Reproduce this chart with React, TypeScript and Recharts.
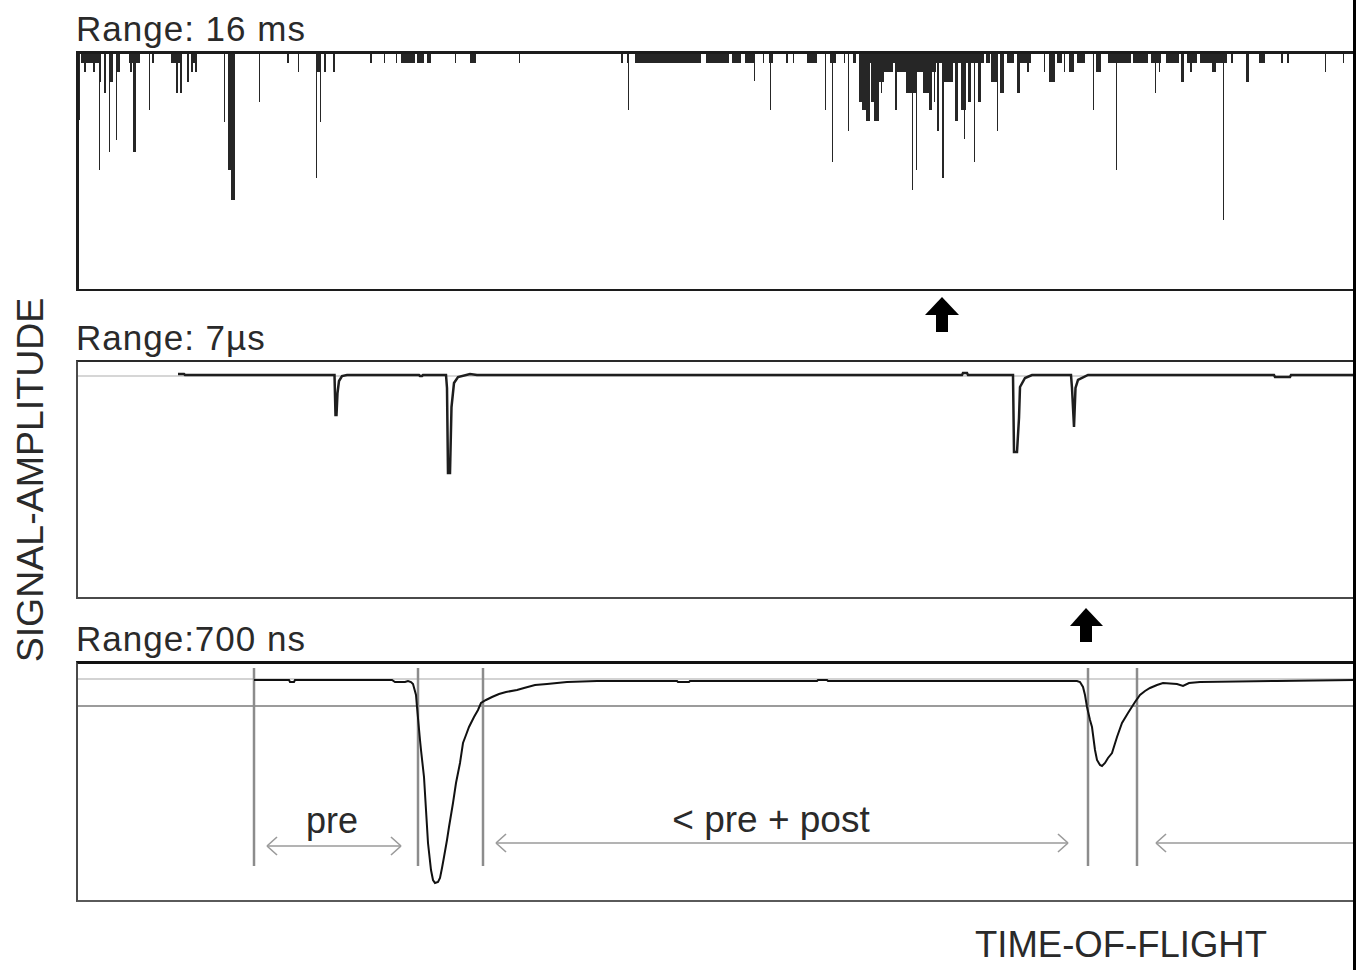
import React from 'react';
import { ComposedChart, Area, Line, XAxis, YAxis, ReferenceLine } from 'recharts';

// ---------- DATA ----------
// Channels along time-of-flight (0..1277 channels across each panel)
const CH_MAX = 1277;

// Panel 1 (Range 16 ms): detected events as [startChannel, endChannel, amplitude]
const panel1Events: [number, number, number][] = [
  [0, 3, 67],
  [4, 24, 10], [7, 9, 19], [16, 18, 19], [22, 24, 29], [22, 23, 117],
  [27, 29, 40], [32, 33, 99], [33, 36, 29], [39, 40, 87], [40, 43, 19],
  [52, 63, 10], [53, 55, 19], [56, 59, 99],
  [72, 73, 57], [75, 77, 10],
  [94, 105, 10], [99, 101, 40], [103, 105, 40], [110, 112, 29], [114, 120, 10], [114, 116, 19], [118, 120, 19],
  [147, 148, 69], [151, 154, 117], [154, 158, 147],
  [182, 183, 49], [210, 212, 10], [221, 222, 19],
  [239, 243, 19], [239, 240, 125], [243, 244, 69], [247, 249, 19], [256, 258, 19],
  [293, 295, 10], [307, 308, 10], [319, 320, 10], [324, 338, 10], [340, 347, 10], [350, 354, 10],
  [378, 379, 10], [393, 399, 10], [442, 443, 10],
  [544, 546, 10], [550, 552, 10], [551, 552, 57],
  [558, 624, 10], [629, 652, 10], [655, 664, 10], [668, 677, 10], [677, 678, 28],
  [686, 687, 10], [692, 696, 10], [693, 694, 57], [709, 711, 10], [716, 717, 10], [730, 740, 10],
  [748, 749, 57], [753, 759, 10], [755, 756, 109], [767, 768, 10], [771, 772, 78], [776, 779, 10],
  [782, 907, 10],
  [782, 785, 49], [785, 789, 57], [789, 793, 68], [794, 797, 49], [797, 802, 68], [802, 807, 29],
  [804, 805, 40], [807, 816, 19], [818, 820, 57], [820, 829, 19], [829, 839, 40], [835, 836, 137],
  [839, 840, 117], [839, 846, 19], [846, 852, 40], [852, 855, 57], [855, 859, 19], [857, 858, 49],
  [860, 862, 78], [865, 867, 125], [867, 876, 29], [878, 881, 68], [884, 889, 57], [887, 888, 86],
  [891, 894, 49], [897, 898, 109], [901, 904, 49],
  [909, 913, 10], [914, 920, 29], [920, 921, 78], [923, 927, 40], [930, 937, 10], [940, 943, 40],
  [943, 954, 10], [950, 952, 19], [967, 968, 19], [972, 978, 29], [980, 985, 10], [987, 988, 19],
  [992, 997, 19], [1000, 1008, 10],
  [1016, 1017, 57], [1019, 1024, 19], [1031, 1054, 10], [1039, 1040, 117], [1056, 1071, 10],
  [1074, 1084, 10], [1078, 1079, 40], [1082, 1083, 19], [1089, 1102, 10], [1104, 1107, 29],
  [1110, 1120, 10], [1113, 1115, 19], [1123, 1141, 10], [1135, 1139, 19], [1141, 1150, 10],
  [1146, 1147, 167], [1154, 1156, 10], [1169, 1172, 29], [1182, 1188, 10], [1204, 1206, 10],
  [1210, 1212, 10], [1248, 1249, 19], [1266, 1267, 10],
];

// Panel 2 (Range 7 µs): signal trace [channel, amplitude]
const panel2Trace: [number, number][] = [
  [101, 2], [107, 2], [108, 1], [257.5, 1], [258.5, -39], [259.5, -39], [260.5, -17], [262, -5], [265, 0], [270, 1],
  [342, 1], [343, 0], [345, 0], [346, 1],
  [369, 1], [370, -12], [371, -97], [373, -97], [374.5, -31], [377, -7], [381, -1], [393, 2], [400, 1],
  [885, 1], [886, 3], [890, 3], [891, 1],
  [936, 1], [937, -76], [940, -76], [942, -42], [943, -11], [948, -2], [955, 1],
  [994, 1], [995, -12], [997, -51], [998.5, -12], [1001, -4], [1011, 1],
  [1197, 1], [1198, -1], [1213, -1], [1214, 1], [1277, 1],
];

// Panel 3 (Range 700 ns): signal trace [channel, amplitude]
const panel3Trace: [number, number][] = [
  [177, 0], [212, 0], [213, -2], [217, -2], [218, 0], [315, 0], [318, -2], [328, -2], [331, -1], [334, -2],
  [336, -4], [339, -15], [340, -27], [343, -60], [344, -70], [347, -97], [349, -130], [351, -163],
  [354, -190], [356, -200], [358, -203], [361, -202], [363, -198], [365, -188], [367, -177], [370, -160],
  [372, -147], [374, -135], [376, -123], [379, -103], [383, -83], [386, -63], [389, -55], [392, -47],
  [397, -37], [401, -30], [404, -23], [409, -20], [415, -17], [422, -14], [429, -12], [440, -10],
  [447, -8], [458, -5], [470, -4], [490, -2], [520, -1], [600, -1], [601, -2], [612, -2], [613, -1],
  [740, -1], [741, 0], [750, 0], [751, -1], [1000, -1], [1003, -2], [1006, -7], [1008, -15], [1010, -27],
  [1013, -40], [1015, -47], [1018, -70], [1020, -80], [1023, -85], [1025, -86], [1028, -83], [1031, -78],
  [1035, -73], [1040, -57], [1045, -43], [1051, -33], [1058, -22], [1063, -15], [1068, -11], [1073, -8],
  [1080, -5], [1086, -3], [1100, -4], [1106, -6], [1112, -3], [1123, -2], [1200, -1], [1277, 0],
];

// Panel 3 window markers (channels) and levels
const panel3Markers = [177, 341, 406, 1011, 1060];
const markerTop = 12;
const markerBottom = -186;
const baselineLevel = 1;
const thresholdLevel = -26;

// Panel 3 window arrows: [from, to, level, heads]
const panel3Arrows: [number, number, number, 'both' | 'left'][] = [
  [190, 324, -166, 'both'],
  [419, 991, -163, 'both'],
  [1079, 1277, -163, 'left'],
];

const titles = ['Range: 16 ms', 'Range: 7\u00b5s', 'Range:700 ns'];
const yAxisTitle = 'SIGNAL-AMPLITUDE';
const xAxisTitle = 'TIME-OF-FLIGHT';
const windowLabels = ['pre', '< pre + post'];

// ---------- BUILD ----------
function buildProfile(events: [number, number, number][]) {
  const prof = new Array(CH_MAX + 1).fill(0);
  for (const [s, e, d] of events) for (let i = s; i < e; i++) prof[i] = Math.max(prof[i], d);
  const out: { ch: number; amp: number }[] = [];
  for (let i = 0; i <= CH_MAX; i++) {
    if (i === 0 || i === CH_MAX || prof[i] !== prof[i - 1]) out.push({ ch: i, amp: -prof[i] });
  }
  return out;
}
const panel1Data = buildProfile(panel1Events);
const panel2Data = panel2Trace.map(([ch, amp]) => ({ ch, amp }));
const panel3Data = panel3Trace.map(([ch, amp]) => ({ ch, amp }));

type Seg = [{ x: number; y: number }, { x: number; y: number }];
const arrowSegs: Seg[] = [];
const HX = 10, HY = 9;
for (const [a, b, lv, heads] of panel3Arrows) {
  arrowSegs.push([{ x: a, y: lv }, { x: b, y: lv }]);
  arrowSegs.push([{ x: a + HX, y: lv + HY }, { x: a, y: lv }]);
  arrowSegs.push([{ x: a, y: lv }, { x: a + HX, y: lv - HY }]);
  if (heads === 'both') {
    arrowSegs.push([{ x: b - HX, y: lv + HY }, { x: b, y: lv }]);
    arrowSegs.push([{ x: b, y: lv }, { x: b - HX, y: lv - HY }]);
  }
}

const FONT = '"Liberation Sans", Arial, sans-serif';
const TXT = '#2a2a2a';

const abs = (left: number, top: number): React.CSSProperties => ({ position: 'absolute', left, top });

export default function App() {
  return (
    <div style={{ position: 'absolute', left: 0, top: 0, width: 1360, height: 970, background: '#fff', overflow: 'hidden' }}>
      {/* Panel 1 */}
      <div style={abs(77, 53)}>
        <ComposedChart width={1277} height={237} data={panel1Data} margin={{ top: 0, right: 0, bottom: 0, left: 0 }}>
          <XAxis dataKey="ch" type="number" domain={[0, CH_MAX]} hide allowDataOverflow />
          <YAxis type="number" domain={[-237, 0]} hide allowDataOverflow />
          <Area type="stepAfter" dataKey="amp" baseValue={0} stroke="none" fill="#262626" fillOpacity={1} isAnimationActive={false} dot={false} activeDot={false} />
        </ComposedChart>
      </div>
      <div style={{ ...abs(76, 51), width: 1280, height: 240, boxSizing: 'border-box', borderTop: '3px solid #1c1c1c', borderBottom: '2px solid #1c1c1c', borderLeft: '3px solid #1c1c1c' }} />

      {/* Panel 2 */}
      <div style={abs(77, 361)}>
        <ComposedChart width={1277} height={237} data={panel2Data} margin={{ top: 0, right: 0, bottom: 0, left: 0 }}>
          <XAxis dataKey="ch" type="number" domain={[0, CH_MAX]} hide allowDataOverflow />
          <YAxis type="number" domain={[-222, 15]} hide allowDataOverflow />
          <ReferenceLine y={0} stroke="#c8c8c8" strokeWidth={1.5} />
          <Line type="linear" dataKey="amp" stroke="#1e1e1e" strokeWidth={2.5} dot={false} activeDot={false} isAnimationActive={false} />
        </ComposedChart>
      </div>
      <div style={{ ...abs(76, 360), width: 1280, height: 239, boxSizing: 'border-box', borderTop: '2px solid #2a2a2a', borderBottom: '2px solid #4a4a4a', borderLeft: '2px solid #4a4a4a' }} />

      {/* Panel 3 */}
      <div style={abs(77, 662)}>
        <ComposedChart width={1277} height={238} data={panel3Data} margin={{ top: 0, right: 0, bottom: 0, left: 0 }}>
          <XAxis dataKey="ch" type="number" domain={[0, CH_MAX]} hide allowDataOverflow />
          <YAxis type="number" domain={[-220, 18]} hide allowDataOverflow />
          <ReferenceLine y={baselineLevel} stroke="#c4c4c4" strokeWidth={1.5} />
          <ReferenceLine y={thresholdLevel} stroke="#7a7a7a" strokeWidth={1.5} />
          {panel3Markers.map((m) => (
            <ReferenceLine key={'m' + m} segment={[{ x: m, y: markerTop }, { x: m, y: markerBottom }]} stroke="#8c8c8c" strokeWidth={2.5} />
          ))}
          {arrowSegs.map((s, i) => (
            <ReferenceLine key={'a' + i} segment={s} stroke="#9a9a9a" strokeWidth={1.6} />
          ))}
          <Line type="linear" dataKey="amp" stroke="#111" strokeWidth={2} dot={false} activeDot={false} isAnimationActive={false} />
        </ComposedChart>
      </div>
      <div style={{ ...abs(76, 661), width: 1280, height: 241, boxSizing: 'border-box', borderTop: '3px solid #111', borderBottom: '2px solid #5a5a5a', borderLeft: '2px solid #4a4a4a' }} />

      {/* Right edge line */}
      <div style={{ ...abs(1353, 0), width: 3, height: 970, background: '#000' }} />

      {/* Text and markers overlay */}
      <svg width={1360} height={970} style={{ position: 'absolute', left: 0, top: 0, pointerEvents: 'none' }}>
        <g fontFamily={FONT} fill={TXT}>
          <text x={76} y={41} fontSize={35} letterSpacing={1}>{titles[0]}</text>
          <text x={76} y={350} fontSize={35} letterSpacing={1}>{titles[1]}</text>
          <text x={76} y={651} fontSize={35} letterSpacing={1}>{titles[2]}</text>
          <text transform="translate(43,480) rotate(-90)" textAnchor="middle" fontSize={37.5}>{yAxisTitle}</text>
          <text x={975} y={957} fontSize={36.5}>{xAxisTitle}</text>
          <text x={332} y={833} fontSize={36} textAnchor="middle">{windowLabels[0]}</text>
          <text x={771} y={832} fontSize={37} textAnchor="middle">{windowLabels[1]}</text>
        </g>
        <g fill="#000">
          <polygon points="925,315 959,315 942,297" />
          <rect x={936} y={314} width={12} height={18} />
          <polygon points="1070,626 1103,626 1086,608" />
          <rect x={1080} y={625} width={12} height={17} />
        </g>
      </svg>
    </div>
  );
}
